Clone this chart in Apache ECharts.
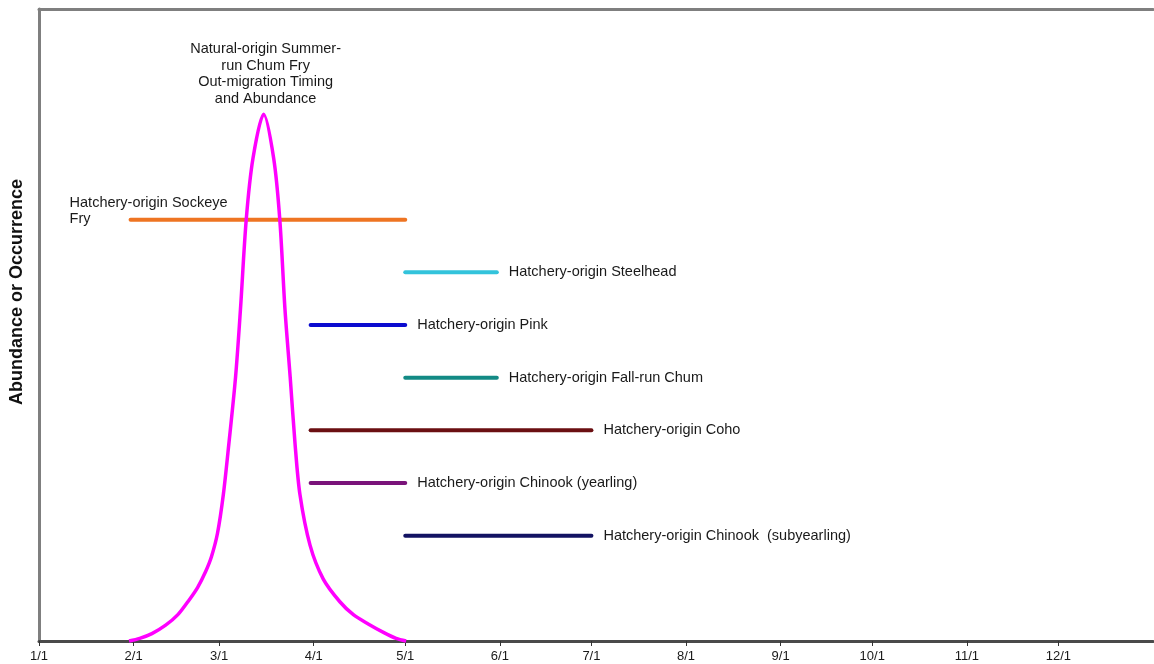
<!DOCTYPE html>
<html>
<head>
<meta charset="utf-8">
<script src="https://cdn.jsdelivr.net/npm/echarts@6/dist/echarts.min.js"></script>
<style>
  html, body { margin: 0; padding: 0; background: #ffffff; }
  #chart { width: 1154px; height: 664px; }
</style>
</head>
<body>
<div id="chart"></div>
<script>
// Tick labels (month starts) and their day-of-year positions
const monthLabels = ['1/1', '2/1', '3/1', '4/1', '5/1', '6/1', '7/1', '8/1', '9/1', '10/1', '11/1', '12/1'];
const monthStartDays = [0, 31, 59, 90, 120, 151, 181, 212, 243, 273, 304, 334];

// Natural-origin summer-run chum fry curve (day of year, relative abundance)
const curveDays   = [29.5, 33, 37, 41.5, 45.5, 49.2, 52, 54.6, 56.5, 58.5, 60.4, 62.2, 64.4, 66.0, 67.9, 70.1, 73.6, 76.9, 78.9, 80.6, 82.3, 83.9, 85.5, 88.8, 93.1, 98.5, 103, 108, 113, 117, 120.3];
const curveValues = [0, 0.05, 0.14, 0.3, 0.5, 0.78, 1.02, 1.32, 1.6, 2.05, 2.78, 3.74, 5.01, 6.29, 8.0, 9.16, 10, 9.16, 8.0, 6.29, 5.01, 3.74, 2.78, 1.82, 1.18, 0.75, 0.5, 0.32, 0.16, 0.05, 0];
const curveName = 'Natural-origin Summer-\nrun Chum Fry\nOut-migration Timing\nand Abundance';

// Hatchery releases: occurrence periods (day of year) and level
const runNames  = ['Hatchery-origin Sockeye\nFry', 'Hatchery-origin Steelhead', 'Hatchery-origin Pink', 'Hatchery-origin Fall-run Chum', 'Hatchery-origin Coho', 'Hatchery-origin Chinook (yearling)', 'Hatchery-origin Chinook  (subyearling)'];
const runStart  = [30, 120, 89, 120, 89, 89, 120];
const runEnd    = [120, 150, 120, 150, 181, 120, 181];
const runLevel  = [8, 7, 6, 5, 4, 3, 2];
const runColors = ['#ee7422', '#33c3db', '#0b0bcf', '#138a85', '#6b0f12', '#7a137a', '#121262'];

const FONT = "'Liberation Sans', Arial, sans-serif";
const TXT = '#1a1a1a';
const FS = 14.5;

const series = [];

series.push({
  name: curveName,
  type: 'line',
  data: curveDays.map((d, i) => [d, curveValues[i]]),
  smooth: 0.3,
  symbol: 'none',
  clip: false,
  lineStyle: { color: '#ff00ff', width: 3.5 },
  z: 3
});

runNames.forEach((name, i) => {
  const isFirst = i === 0;
  series.push({
    name: name,
    type: 'line',
    data: [[runStart[i], runLevel[i]], [runEnd[i], runLevel[i]]],
    symbol: 'none',
    clip: false,
    lineStyle: { color: runColors[i], width: 4, cap: 'round' },
    endLabel: {
      show: !isFirst,
      formatter: name,
      distance: 12,
      color: TXT,
      fontSize: FS,
      fontFamily: FONT
    },
    z: 2
  });
});

const peakValue = Math.max(...curveValues);
const peakDay = curveDays[curveValues.indexOf(peakValue)];

// Annotation labels attached to data positions
series.push({
  type: 'scatter',
  silent: true,
  symbolSize: 0,
  itemStyle: { color: 'transparent', opacity: 1 },
  data: [{
    value: [peakDay, peakValue],
    label: {
      show: true,
      formatter: curveName,
      position: 'top',
      distance: 7,
      offset: [2, 0],
      align: 'center',
      lineHeight: 16.7,
      fontSize: FS,
      fontFamily: FONT,
      color: TXT,
      opacity: 1
    }
  }, {
    value: [runStart[0], runLevel[0]],
    label: {
      show: true,
      formatter: runNames[0],
      position: [-61, 8],
      align: 'left',
      verticalAlign: 'bottom',
      lineHeight: 16.5,
      fontSize: FS,
      fontFamily: FONT,
      color: TXT,
      opacity: 1
    }
  }],
  z: 5
});

const chart = echarts.init(document.getElementById('chart'), null, { renderer: 'canvas' });
chart.setOption({
  animation: false,
  backgroundColor: '#ffffff',
  grid: { left: 39, right: 1, top: 9, bottom: 23 },
  xAxis: [{
    type: 'value',
    min: 0,
    max: 365,
    position: 'bottom',
    splitLine: { show: false },
    axisLine: { show: true, lineStyle: { color: '#4a4a4a', width: 3 } },
    axisTick: { show: true, customValues: monthStartDays, length: 5, lineStyle: { color: '#333333', width: 1 } },
    axisLabel: {
      customValues: monthStartDays,
      formatter: v => monthLabels[monthStartDays.indexOf(v)],
      margin: 9,
      fontSize: 13,
      fontFamily: FONT,
      color: TXT
    }
  }, {
    type: 'value',
    min: 0,
    max: 365,
    position: 'top',
    splitLine: { show: false },
    axisLine: { show: true, lineStyle: { color: '#7f7f7f', width: 3 } },
    axisTick: { show: false },
    axisLabel: { show: false }
  }],
  yAxis: {
    type: 'value',
    min: 0,
    max: 12,
    splitLine: { show: false },
    axisLine: { show: true, lineStyle: { color: '#7f7f7f', width: 3 } },
    axisTick: { show: false },
    axisLabel: { show: false }
  },
  graphic: [{
    type: 'text',
    x: 17,
    y: 292,
    rotation: Math.PI / 2,
    style: {
      text: 'Abundance or Occurrence',
      align: 'center',
      verticalAlign: 'middle',
      font: "bold 18px 'Liberation Sans', Arial, sans-serif",
      fill: '#111111'
    }
  }],
  series: series
});
</script>
</body>
</html>
